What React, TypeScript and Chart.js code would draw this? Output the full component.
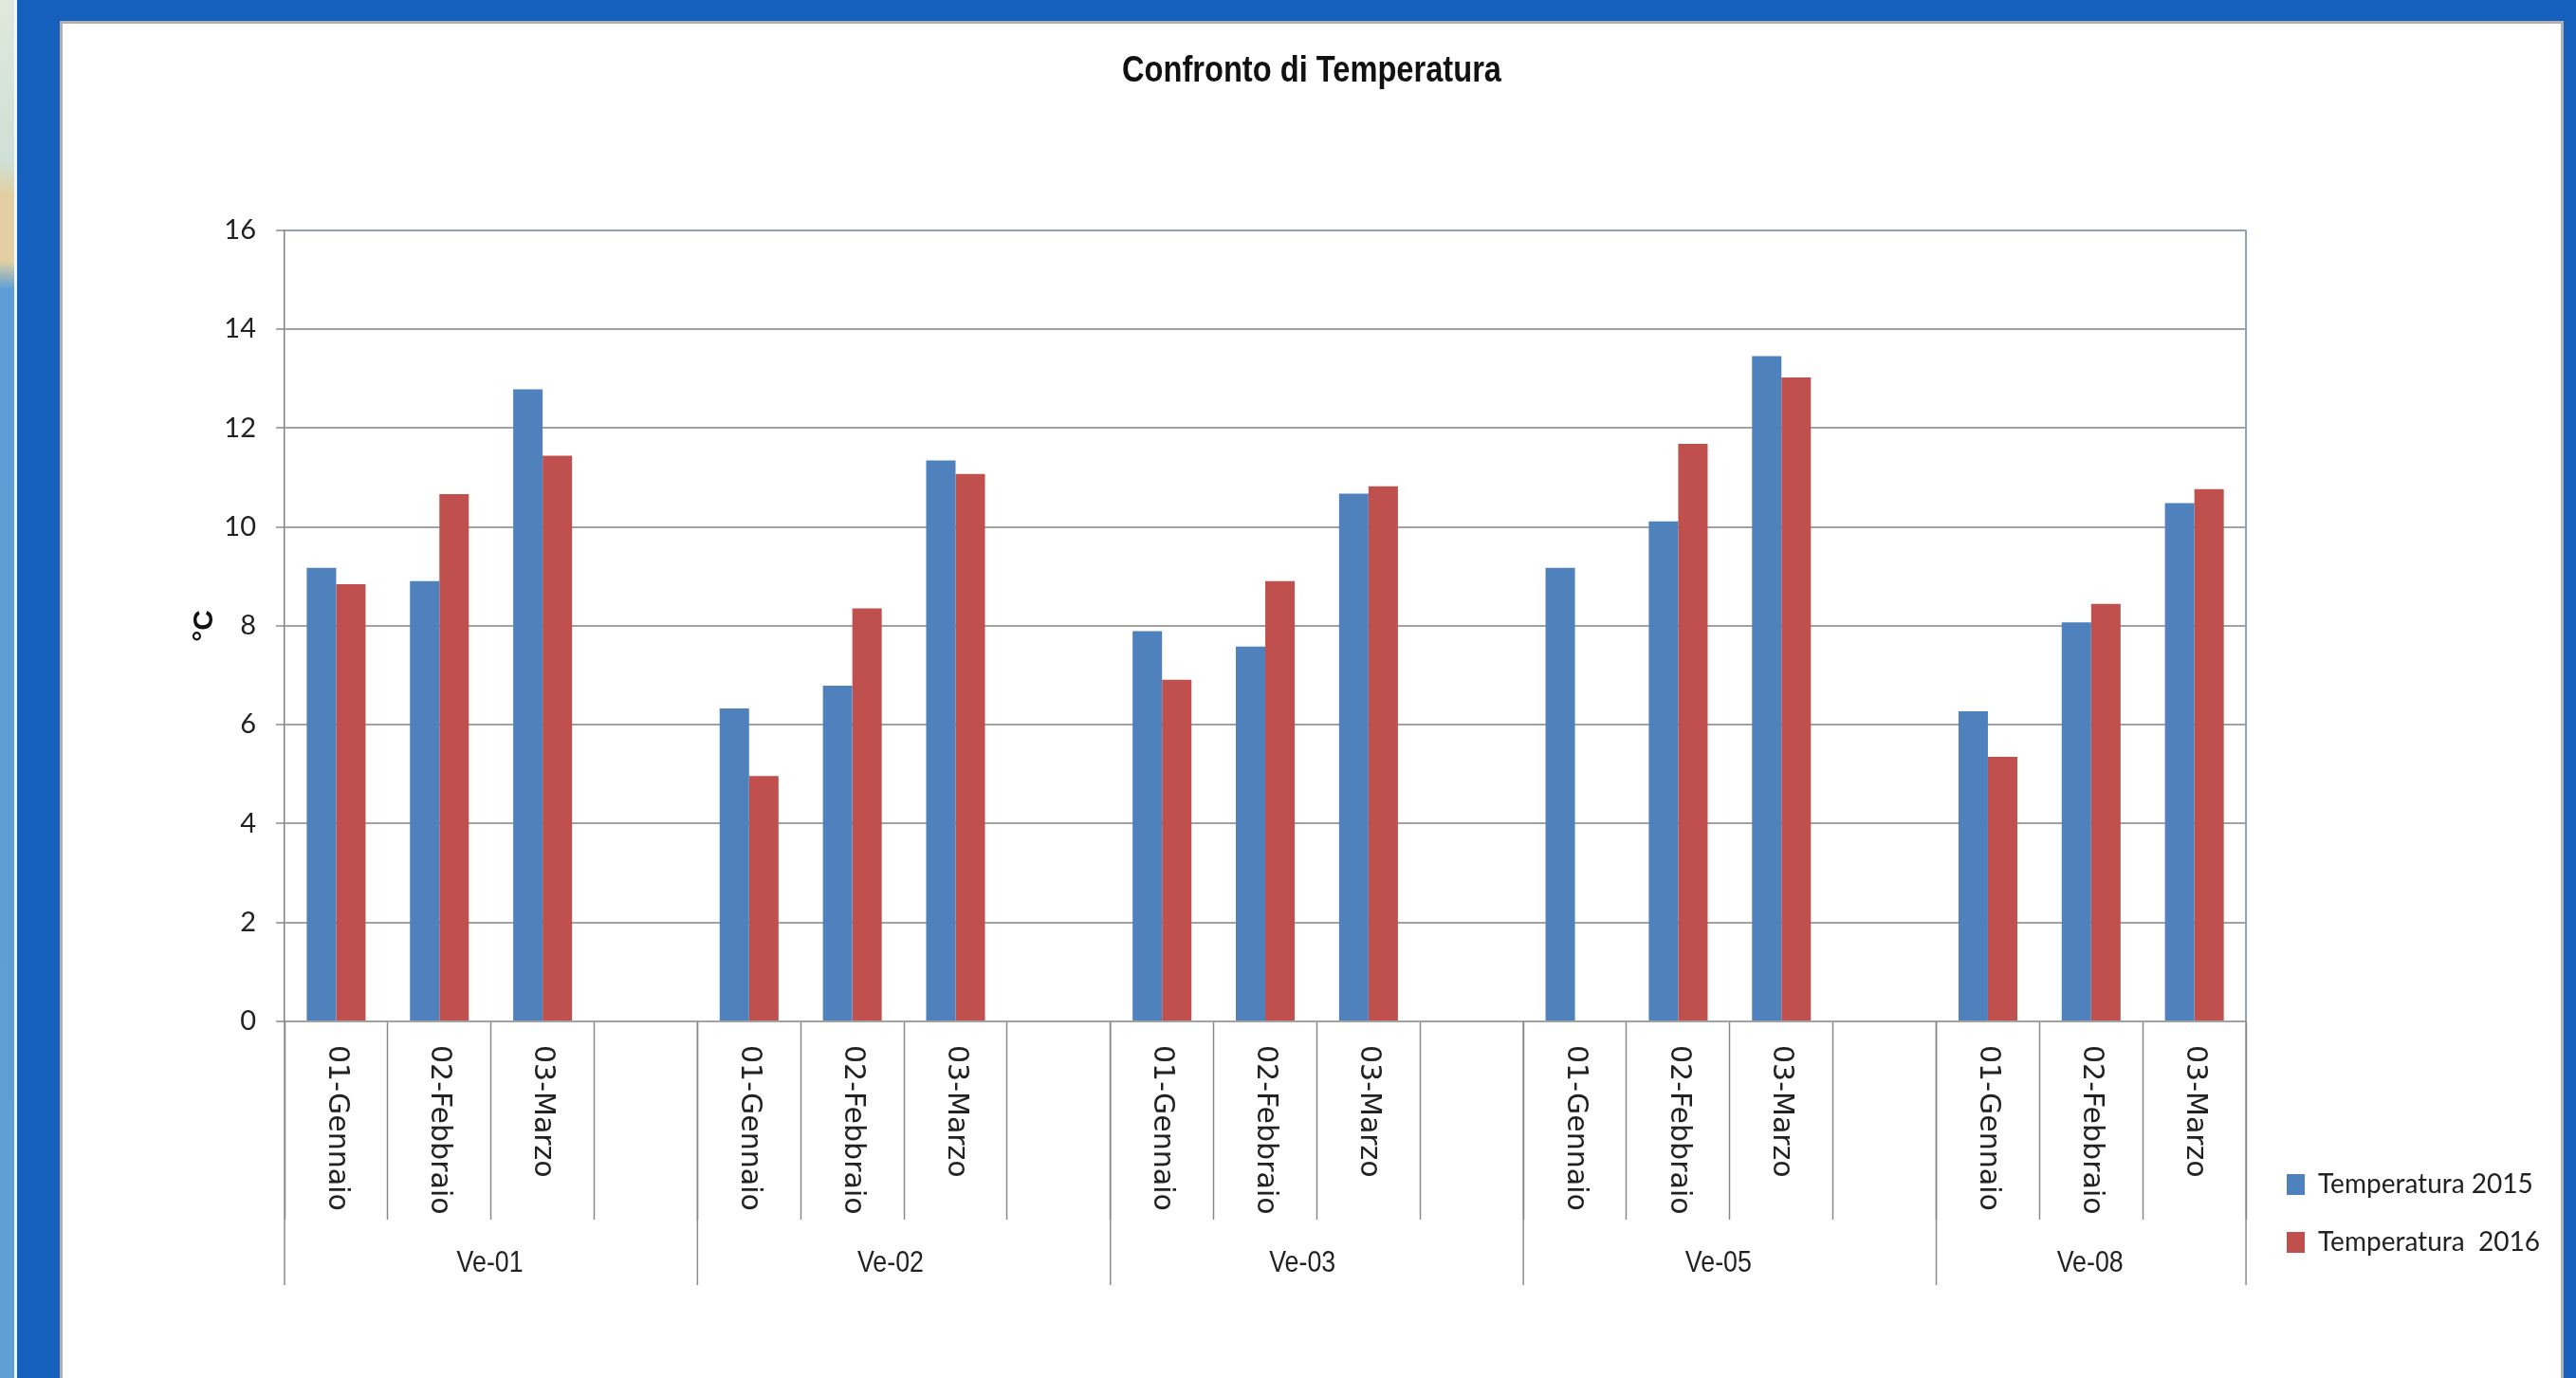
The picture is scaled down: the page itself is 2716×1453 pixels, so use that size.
import React, { useEffect, useRef } from "react";
import { Chart, registerables } from "chart.js";

Chart.register(...registerables);

const title = "Confronto di Temperatura";
const yAxisTitle = "°C";
const monthLabels = [
  "01-Gennaio", "02-Febbraio", "03-Marzo", "",
  "01-Gennaio", "02-Febbraio", "03-Marzo", "",
  "01-Gennaio", "02-Febbraio", "03-Marzo", "",
  "01-Gennaio", "02-Febbraio", "03-Marzo", "",
  "01-Gennaio", "02-Febbraio", "03-Marzo",
];
const stationLabels = ["Ve-01", "Ve-02", "Ve-03", "Ve-05", "Ve-08"];
const temperatura2015 = [
  9.17, 8.9, 12.78, null,
  6.33, 6.79, 11.34, null,
  7.89, 7.58, 10.67, null,
  9.17, 10.11, 13.45, null,
  6.27, 8.07, 10.48,
];
const temperatura2016 = [
  8.84, 10.66, 11.44, null,
  4.96, 8.35, 11.07, null,
  6.91, 8.9, 10.82, null,
  null, 11.68, 13.02, null,
  5.35, 8.44, 10.76,
];
const seriesNames = ["Temperatura 2015", "Temperatura  2016"];

// Layout only: where group labels sit, in category slots from the axis start.
const stationLabelSlots = [1.99, 5.87, 9.86, 13.89, 17.49];
const longTickBoundaries = [0, 4, 8, 12, 16, 19];

const SANS = '"Liberation Sans", sans-serif';
const TEXT = "#222222";
const AXIS = "#8a8a8a";
const GRID = "#a2a2a2";
const EDGE = "#8ea3ae";

const axisExtras = {
  id: "axisExtras",
  afterLayout(chart: any) {
    // A narrow title box: the title is fitted to this width when drawn.
    chart.titleBlock.left = 1183;
    chart.titleBlock.right = 1583;
    const lg = chart.legend;
    const w = lg.width;
    lg.left = 2378;
    lg.right = 2378 + w;
    lg.top = 1202;
    lg.bottom = 1380;
  },
  afterDraw(chart: any) {
    const { ctx, chartArea, scales } = chart;
    const x = scales.x;
    const slot = (chartArea.right - chartArea.left) / monthLabels.length;
    ctx.save();
    // Right edge of the plot area
    ctx.strokeStyle = EDGE;
    ctx.lineWidth = 2;
    ctx.beginPath();
    ctx.moveTo(chartArea.right, chartArea.top);
    ctx.lineTo(chartArea.right, chartArea.bottom);
    ctx.stroke();
    // Long separators between stations
    ctx.strokeStyle = AXIS;
    ctx.lineWidth = 1.5;
    longTickBoundaries.forEach((b) => {
      const px = chartArea.left + b * slot;
      ctx.beginPath();
      ctx.moveTo(px, chartArea.bottom);
      ctx.lineTo(px, chartArea.bottom + 278);
      ctx.stroke();
    });
    // Month labels, rotated clockwise
    ctx.fillStyle = TEXT;
    ctx.font = '30px "DejaVu Sans", sans-serif';
    ctx.textAlign = "left";
    ctx.textBaseline = "middle";
    monthLabels.forEach((label, i) => {
      if (!label) return;
      ctx.save();
      ctx.translate(x.getPixelForValue(i), chartArea.bottom + 25);
      ctx.rotate(Math.PI / 2);
      ctx.fillText(label, 0, 0);
      ctx.restore();
    });
    // Station labels
    ctx.font = `32px ${SANS}`;
    ctx.textAlign = "center";
    stationLabels.forEach((label, i) => {
      ctx.fillText(label, chartArea.left + stationLabelSlots[i] * slot, chartArea.bottom + 255, 70);
    });
    ctx.restore();
  },
};

export default function App() {
  const ref = useRef<HTMLCanvasElement>(null);

  useEffect(() => {
    const chart = new Chart(ref.current as HTMLCanvasElement, {
      type: "bar",
      data: {
        labels: monthLabels,
        datasets: [
          { label: seriesNames[0], data: temperatura2015, backgroundColor: "#4f81bd", categoryPercentage: 0.57, barPercentage: 1 },
          { label: seriesNames[1], data: temperatura2016, backgroundColor: "#c0504d", categoryPercentage: 0.57, barPercentage: 1 },
        ],
      },
      options: {
        responsive: false,
        animation: false,
        layout: { padding: { left: 0, right: 38, top: 0, bottom: 0 } },
        plugins: {
          tooltip: { enabled: false },
          title: {
            display: true,
            text: title,
            color: "#111111",
            font: { family: SANS, size: 38, weight: "bold", lineHeight: 1.2 },
            padding: { top: 53, bottom: 144 },
          },
          legend: {
            position: "right",
            align: "start",
            labels: {
              boxWidth: 19,
              boxHeight: 22,
              padding: 33,
              color: TEXT,
              font: { family: "Lato", size: 28 },
            },
          },
        },
        scales: {
          x: {
            offset: true,
            afterFit: (s: any) => { s.height = 376; },
            ticks: { display: false },
            border: { color: GRID, width: 2 },
            grid: {
              offset: true,
              drawOnChartArea: false,
              drawTicks: true,
              tickLength: 209,
              tickColor: AXIS,
              tickWidth: 1.5,
            },
          },
          y: {
            min: 0,
            max: 16,
            afterFit: (s: any) => { s.width = 300; },
            ticks: {
              stepSize: 2,
              padding: 21,
              color: TEXT,
              font: { family: "Lato", size: 29 },
            },
            title: {
              display: true,
              text: yAxisTitle,
              color: "#111111",
              font: { family: SANS, size: 30, weight: "bold", lineHeight: 1.2 },
              padding: { top: 198, bottom: 0 },
            },
            border: { color: "#808080", width: 1.5 },
            grid: {
              color: (c: any) => (c.tick && c.tick.value === 16 ? EDGE : GRID),
              lineWidth: 2,
              tickLength: 9,
              tickColor: AXIS,
              tickWidth: 1.5,
            },
          },
        },
      },
      plugins: [axisExtras],
    } as any);
    return () => chart.destroy();
  }, []);

  return (
    <div style={{ position: "absolute", left: 0, top: 0, width: 2716, height: 1453, overflow: "hidden", background: "#1660bd" }}>
      <div style={{ position: "absolute", left: 0, top: 0, width: 15, height: 1453, background: "linear-gradient(to bottom, #dfe8dc 0, #cfe0d8 170px, #e2d0a2 205px, #e2d0a2 275px, #5d9ed6 305px, #5f9fd4 100%)" }} />
      <div style={{ position: "absolute", left: 15, top: 0, width: 3, height: 1453, background: "#eefaff" }} />
      <div style={{ position: "absolute", left: 63, top: 22, width: 2640, height: 1431, background: "#ffffff", borderLeft: "3px solid #b0b0b0", borderTop: "3px solid #b0b0b0", borderRight: "3px solid #b0b0b0", boxSizing: "border-box" }} />
      <canvas ref={ref} width={2716} height={1453} style={{ position: "absolute", left: 0, top: 0, width: 2716, height: 1453 }} />
    </div>
  );
}
